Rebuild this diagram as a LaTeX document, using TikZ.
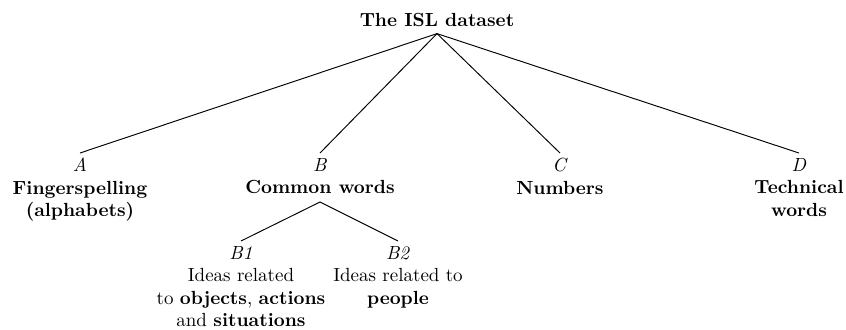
\documentclass[tikz,border=0pt]{standalone}
\begin{document}
\begin{tikzpicture}[x=0.5263pt, y=-0.5263pt,
  treetext/.style={align=center, inner xsep=0pt, font={\fontsize{10}{11.8}\selectfont}},
  rootnode/.style={treetext, inner ysep=3.7pt, anchor=base},
  leaf/.style={treetext, inner ysep=2.6pt, anchor=north},
  edge/.style={line width=0.5pt}]
\useasboundingbox (0,0) rectangle (846,329);

% root of the tree
\node[rootnode] (root) at (437,26) {\textbf{The ISL dataset}};

% first level
\node[leaf] (A) at (80,153) {\textit{A}\\\textbf{Fingerspelling}\\\textbf{(alphabets)}};
\node[leaf] (B) at (320,153) {\textit{B}\\\textbf{Common words}};
\node[leaf] (C) at (560,153) {\textit{C}\\\textbf{Numbers}};
\node[leaf] (D) at (799,153) {\textit{D}\\\textbf{Technical}\\\textbf{words}};

% second level under B
\coordinate (Bfork) at (320,202);
\node[leaf] (B1) at (241,241) {\textit{B1}\\Ideas related\\to \textbf{objects}, \textbf{actions}\\and \textbf{situations}};
\node[leaf] (B2) at (398,241) {\textit{B2}\\Ideas related to\\\textbf{people}};

% branches
\foreach \leafname in {A,B,C,D}
  \draw[edge] (root.south) -- (\leafname.north);
\draw[edge] (B.south |- Bfork) -- (B1.north);
\draw[edge] (Bfork) -- (B2.north);
\end{tikzpicture}
\end{document}
